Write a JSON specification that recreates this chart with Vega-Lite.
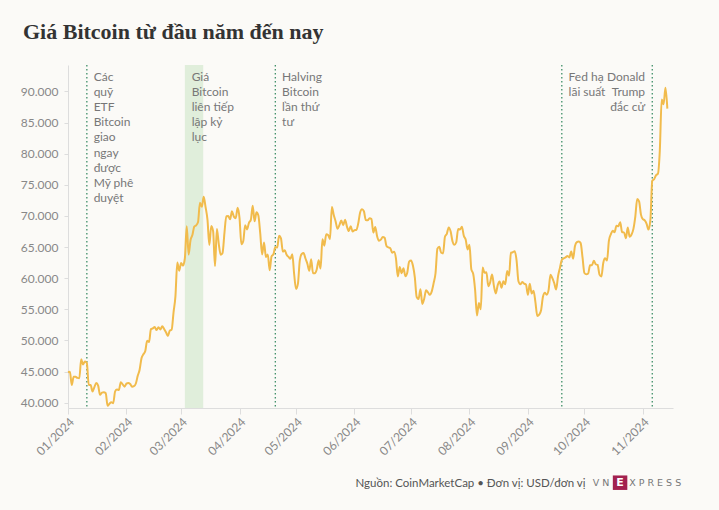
{
  "$schema": "https://vega.github.io/schema/vega-lite/v6.json",
  "width": 605,
  "height": 343,
  "autosize": {"type": "none"},
  "padding": {"left": 68, "top": 65, "right": 46, "bottom": 102},
  "background": "#fbfaf7",
  "title": {
    "text": "Giá Bitcoin từ đầu năm đến nay",
    "anchor": "start",
    "frame": "group",
    "dx": -45,
    "dy": 20.7,
    "offset": 24,
    "baseline": "alphabetic",
    "font": "Liberation Serif",
    "fontSize": 22,
    "fontWeight": "bold",
    "color": "#333333"
  },
  "config": {
    "view": {"stroke": null},
    "font": "Lato"
  },
  "datasets": {
    "prices": [
      {"d":"2024-01-01","p":44900},{"d":"2024-01-02","p":44958},{"d":"2024-01-03","p":42848},{"d":"2024-01-04","p":44179},{"d":"2024-01-05","p":44162},{"d":"2024-01-06","p":43989},{"d":"2024-01-07","p":43943},{"d":"2024-01-08","p":46970},{"d":"2024-01-09","p":46139},{"d":"2024-01-10","p":46627},{"d":"2024-01-11","p":46368},{"d":"2024-01-12","p":42853},{"d":"2024-01-13","p":42842},{"d":"2024-01-14","p":41796},{"d":"2024-01-15","p":42511},{"d":"2024-01-16","p":43155},{"d":"2024-01-17","p":42742},{"d":"2024-01-18","p":41262},{"d":"2024-01-19","p":41618},{"d":"2024-01-20","p":41665},{"d":"2024-01-21","p":41545},{"d":"2024-01-22","p":39507},{"d":"2024-01-23","p":39845},{"d":"2024-01-24","p":40077},{"d":"2024-01-25","p":39933},{"d":"2024-01-26","p":41816},{"d":"2024-01-27","p":42120},{"d":"2024-01-28","p":42035},{"d":"2024-01-29","p":43288},{"d":"2024-01-30","p":42952},{"d":"2024-01-31","p":42582},
      {"d":"2024-02-01","p":43075},{"d":"2024-02-02","p":43185},{"d":"2024-02-03","p":42992},{"d":"2024-02-04","p":42583},{"d":"2024-02-05","p":42658},{"d":"2024-02-06","p":43084},{"d":"2024-02-07","p":44318},{"d":"2024-02-08","p":45301},{"d":"2024-02-09","p":47147},{"d":"2024-02-10","p":47771},{"d":"2024-02-11","p":48293},{"d":"2024-02-12","p":49958},{"d":"2024-02-13","p":49742},{"d":"2024-02-14","p":51826},{"d":"2024-02-15","p":51938},{"d":"2024-02-16","p":52160},{"d":"2024-02-17","p":51663},{"d":"2024-02-18","p":52122},{"d":"2024-02-19","p":51779},{"d":"2024-02-20","p":52284},{"d":"2024-02-21","p":51839},{"d":"2024-02-22","p":51304},{"d":"2024-02-23","p":50731},{"d":"2024-02-24","p":51571},{"d":"2024-02-25","p":51733},{"d":"2024-02-26","p":54522},{"d":"2024-02-27","p":57085},{"d":"2024-02-28","p":62504},{"d":"2024-02-29","p":61198},
      {"d":"2024-03-01","p":62440},{"d":"2024-03-02","p":62029},{"d":"2024-03-03","p":63167},{"d":"2024-03-04","p":68330},{"d":"2024-03-05","p":63801},{"d":"2024-03-06","p":66106},{"d":"2024-03-07","p":66925},{"d":"2024-03-08","p":68300},{"d":"2024-03-09","p":68498},{"d":"2024-03-10","p":69019},{"d":"2024-03-11","p":72123},{"d":"2024-03-12","p":71481},{"d":"2024-03-13","p":73083},{"d":"2024-03-14","p":71397},{"d":"2024-03-15","p":69403},{"d":"2024-03-16","p":65315},{"d":"2024-03-17","p":68391},{"d":"2024-03-18","p":67548},{"d":"2024-03-19","p":61912},{"d":"2024-03-20","p":67913},{"d":"2024-03-21","p":65491},{"d":"2024-03-22","p":63779},{"d":"2024-03-23","p":64062},{"d":"2024-03-24","p":67234},{"d":"2024-03-25","p":69958},{"d":"2024-03-26","p":69987},{"d":"2024-03-27","p":69455},{"d":"2024-03-28","p":70744},{"d":"2024-03-29","p":69892},{"d":"2024-03-30","p":69645},{"d":"2024-03-31","p":71333},
      {"d":"2024-04-01","p":69702},{"d":"2024-04-02","p":65446},{"d":"2024-04-03","p":65980},{"d":"2024-04-04","p":68508},{"d":"2024-04-05","p":67837},{"d":"2024-04-06","p":68896},{"d":"2024-04-07","p":69362},{"d":"2024-04-08","p":71632},{"d":"2024-04-09","p":69139},{"d":"2024-04-10","p":70587},{"d":"2024-04-11","p":70060},{"d":"2024-04-12","p":67195},{"d":"2024-04-13","p":63821},{"d":"2024-04-14","p":65738},{"d":"2024-04-15","p":63426},{"d":"2024-04-16","p":63811},{"d":"2024-04-17","p":61276},{"d":"2024-04-18","p":63512},{"d":"2024-04-19","p":63843},{"d":"2024-04-20","p":64994},{"d":"2024-04-21","p":64927},{"d":"2024-04-22","p":66837},{"d":"2024-04-23","p":66407},{"d":"2024-04-24","p":64276},{"d":"2024-04-25","p":64482},{"d":"2024-04-26","p":63756},{"d":"2024-04-27","p":63419},{"d":"2024-04-28","p":63113},{"d":"2024-04-29","p":63841},{"d":"2024-04-30","p":60636},
      {"d":"2024-05-01","p":58254},{"d":"2024-05-02","p":59123},{"d":"2024-05-03","p":62889},{"d":"2024-05-04","p":63892},{"d":"2024-05-05","p":64031},{"d":"2024-05-06","p":63161},{"d":"2024-05-07","p":62334},{"d":"2024-05-08","p":61187},{"d":"2024-05-09","p":63049},{"d":"2024-05-10","p":60793},{"d":"2024-05-11","p":60793},{"d":"2024-05-12","p":61448},{"d":"2024-05-13","p":62901},{"d":"2024-05-14","p":61553},{"d":"2024-05-15","p":66267},{"d":"2024-05-16","p":65231},{"d":"2024-05-17","p":67051},{"d":"2024-05-18","p":66940},{"d":"2024-05-19","p":66278},{"d":"2024-05-20","p":71448},{"d":"2024-05-21","p":70136},{"d":"2024-05-22","p":69122},{"d":"2024-05-23","p":67929},{"d":"2024-05-24","p":68526},{"d":"2024-05-25","p":69265},{"d":"2024-05-26","p":68518},{"d":"2024-05-27","p":69394},{"d":"2024-05-28","p":68296},{"d":"2024-05-29","p":67578},{"d":"2024-05-30","p":68364},{"d":"2024-05-31","p":67491},
      {"d":"2024-06-01","p":67706},{"d":"2024-06-02","p":67751},{"d":"2024-06-03","p":68804},{"d":"2024-06-04","p":70567},{"d":"2024-06-05","p":71082},{"d":"2024-06-06","p":70757},{"d":"2024-06-07","p":69342},{"d":"2024-06-08","p":69305},{"d":"2024-06-09","p":69648},{"d":"2024-06-10","p":69512},{"d":"2024-06-11","p":67332},{"d":"2024-06-12","p":68241},{"d":"2024-06-13","p":66756},{"d":"2024-06-14","p":66011},{"d":"2024-06-15","p":66191},{"d":"2024-06-16","p":66639},{"d":"2024-06-17","p":66490},{"d":"2024-06-18","p":65140},{"d":"2024-06-19","p":64960},{"d":"2024-06-20","p":64828},{"d":"2024-06-21","p":64096},{"d":"2024-06-22","p":64252},{"d":"2024-06-23","p":63180},{"d":"2024-06-24","p":60277},{"d":"2024-06-25","p":61804},{"d":"2024-06-26","p":60811},{"d":"2024-06-27","p":61605},{"d":"2024-06-28","p":60320},{"d":"2024-06-29","p":60887},{"d":"2024-06-30","p":62678},
      {"d":"2024-07-01","p":62851},{"d":"2024-07-02","p":62029},{"d":"2024-07-03","p":60173},{"d":"2024-07-04","p":56977},{"d":"2024-07-05","p":56663},{"d":"2024-07-06","p":58230},{"d":"2024-07-07","p":55857},{"d":"2024-07-08","p":56714},{"d":"2024-07-09","p":58051},{"d":"2024-07-10","p":57725},{"d":"2024-07-11","p":57339},{"d":"2024-07-12","p":57889},{"d":"2024-07-13","p":59204},{"d":"2024-07-14","p":60797},{"d":"2024-07-15","p":64724},{"d":"2024-07-16","p":65043},{"d":"2024-07-17","p":64087},{"d":"2024-07-18","p":63987},{"d":"2024-07-19","p":66660},{"d":"2024-07-20","p":67139},{"d":"2024-07-21","p":68165},{"d":"2024-07-22","p":67532},{"d":"2024-07-23","p":65936},{"d":"2024-07-24","p":65372},{"d":"2024-07-25","p":65777},{"d":"2024-07-26","p":67912},{"d":"2024-07-27","p":67813},{"d":"2024-07-28","p":68255},{"d":"2024-07-29","p":66820},{"d":"2024-07-30","p":66201},{"d":"2024-07-31","p":64619},
      {"d":"2024-08-01","p":65357},{"d":"2024-08-02","p":61415},{"d":"2024-08-03","p":60680},{"d":"2024-08-04","p":58116},{"d":"2024-08-05","p":53991},{"d":"2024-08-06","p":56034},{"d":"2024-08-07","p":55027},{"d":"2024-08-08","p":61710},{"d":"2024-08-09","p":60880},{"d":"2024-08-10","p":60945},{"d":"2024-08-11","p":58719},{"d":"2024-08-12","p":59354},{"d":"2024-08-13","p":60609},{"d":"2024-08-14","p":58737},{"d":"2024-08-15","p":57560},{"d":"2024-08-16","p":58894},{"d":"2024-08-17","p":59478},{"d":"2024-08-18","p":58483},{"d":"2024-08-19","p":59493},{"d":"2024-08-20","p":59012},{"d":"2024-08-21","p":61175},{"d":"2024-08-22","p":60381},{"d":"2024-08-23","p":64094},{"d":"2024-08-24","p":64178},{"d":"2024-08-25","p":64333},{"d":"2024-08-26","p":62880},{"d":"2024-08-27","p":59504},{"d":"2024-08-28","p":59027},{"d":"2024-08-29","p":59388},{"d":"2024-08-30","p":59119},{"d":"2024-08-31","p":58970},
      {"d":"2024-09-01","p":57325},{"d":"2024-09-02","p":59112},{"d":"2024-09-03","p":57541},{"d":"2024-09-04","p":57971},{"d":"2024-09-05","p":56160},{"d":"2024-09-06","p":53949},{"d":"2024-09-07","p":54139},{"d":"2024-09-08","p":54842},{"d":"2024-09-09","p":57019},{"d":"2024-09-10","p":57648},{"d":"2024-09-11","p":57343},{"d":"2024-09-12","p":58127},{"d":"2024-09-13","p":60571},{"d":"2024-09-14","p":60005},{"d":"2024-09-15","p":59182},{"d":"2024-09-16","p":58192},{"d":"2024-09-17","p":60309},{"d":"2024-09-18","p":61649},{"d":"2024-09-19","p":62940},{"d":"2024-09-20","p":63193},{"d":"2024-09-21","p":63348},{"d":"2024-09-22","p":63579},{"d":"2024-09-23","p":63339},{"d":"2024-09-24","p":64277},{"d":"2024-09-25","p":63144},{"d":"2024-09-26","p":65182},{"d":"2024-09-27","p":65790},{"d":"2024-09-28","p":65887},{"d":"2024-09-29","p":65635},{"d":"2024-09-30","p":63329},
      {"d":"2024-10-01","p":60837},{"d":"2024-10-02","p":60632},{"d":"2024-10-03","p":60759},{"d":"2024-10-04","p":62067},{"d":"2024-10-05","p":62089},{"d":"2024-10-06","p":62818},{"d":"2024-10-07","p":62236},{"d":"2024-10-08","p":62131},{"d":"2024-10-09","p":60583},{"d":"2024-10-10","p":60274},{"d":"2024-10-11","p":62445},{"d":"2024-10-12","p":63193},{"d":"2024-10-13","p":62851},{"d":"2024-10-14","p":66046},{"d":"2024-10-15","p":67041},{"d":"2024-10-16","p":67612},{"d":"2024-10-17","p":67399},{"d":"2024-10-18","p":68418},{"d":"2024-10-19","p":68362},{"d":"2024-10-20","p":69001},{"d":"2024-10-21","p":67367},{"d":"2024-10-22","p":67361},{"d":"2024-10-23","p":66432},{"d":"2024-10-24","p":68161},{"d":"2024-10-25","p":66642},{"d":"2024-10-26","p":67014},{"d":"2024-10-27","p":67929},{"d":"2024-10-28","p":69907},{"d":"2024-10-29","p":72720},{"d":"2024-10-30","p":72339},{"d":"2024-10-31","p":70215},
      {"d":"2024-11-01","p":69482},{"d":"2024-11-02","p":69289},{"d":"2024-11-03","p":68741},{"d":"2024-11-04","p":67811},{"d":"2024-11-05","p":69359},{"d":"2024-11-06","p":75639},{"d":"2024-11-07","p":75904},{"d":"2024-11-08","p":76545},{"d":"2024-11-09","p":76778},{"d":"2024-11-10","p":80474},{"d":"2024-11-11","p":88701},{"d":"2024-11-12","p":87955},{"d":"2024-11-13","p":90585},{"d":"2024-11-14","p":87250}
    ],
    "band": [{"start": "2024-03-03T00:00:00Z", "end": "2024-03-12T18:00:00Z", "event": "Giá Bitcoin liên tiếp lập kỷ lục"}],
    "events": [
      {"d": "2024-01-11", "event": "ETF"},
      {"d": "2024-04-20", "event": "Halving"},
      {"d": "2024-09-19", "event": "Fed"},
      {"d": "2024-11-06", "event": "Trump"}
    ],
    "notesLeft": [
      {"d": "2024-01-11", "label": "Các\nquỹ\nETF\nBitcoin\ngiao\nngay\nđược\nMỹ phê\nduyệt"},
      {"d": "2024-03-03T00:00:00Z", "label": "Giá\nBitcoin\nliên tiếp\nlập kỷ\nlục"},
      {"d": "2024-04-20", "label": "Halving\nBitcoin\nlần thứ\ntư"},
      {"d": "2024-09-19", "label": "Fed hạ\nlãi suất"}
    ],
    "notesRight": [
      {"d": "2024-11-06", "label": "Donald\nTrump\nđắc cử"}
    ]
  },
  "layer": [
    {
      "data": {"name": "band"},
      "mark": {"type": "rect", "color": "#e0eedb", "opacity": 1},
      "encoding": {
        "x": {"field": "start", "type": "temporal"},
        "x2": {"field": "end"}
      }
    },
    {
      "data": {"name": "events"},
      "mark": {"type": "rule", "color": "#3f8f68", "strokeWidth": 1.3, "strokeDash": [1.5, 2.5]},
      "encoding": {
        "x": {"field": "d", "type": "temporal"}
      }
    },
    {
      "data": {"name": "prices"},
      "mark": {"type": "line", "color": "#f1bb4c", "strokeWidth": 2, "interpolate": "monotone"},
      "encoding": {
        "x": {
          "field": "d",
          "type": "temporal",
          "scale": {"type": "utc", "domain": ["2024-01-01T00:00:00Z", "2024-11-17T00:00:00Z"], "nice": false},
          "axis": {
            "format": "%m/%Y",
            "tickCount": {"interval": "month", "step": 1},
            "labelAngle": -45,
            "labelFont": "Lato",
            "labelFontSize": 12,
            "labelColor": "#888888",
            "domainColor": "#dddddd",
            "tickColor": "#dddddd",
            "tickSize": 6,
            "grid": false,
            "title": "Nguồn: CoinMarketCap • Đơn vị: USD/đơn vị",
            "titleFont": "Lato",
            "titleFontSize": 11.5,
            "titleFontWeight": "normal",
            "titleColor": "#555555",
            "titleAlign": "right",
            "titleAnchor": "end",
            "titleBaseline": "middle",
            "titleX": 517,
            "titleY": 75
          }
        },
        "y": {
          "field": "p",
          "type": "quantitative",
          "scale": {"domain": [39150, 94250], "nice": false, "zero": false},
          "axis": {
            "values": [40000, 45000, 50000, 55000, 60000, 65000, 70000, 75000, 80000, 85000, 90000],
            "tickCount": 20,
            "labelExpr": "replace(format(datum.value, ','), ',', '.')",
            "labelOverlap": false,
            "labelFont": "Lato",
            "labelFontSize": 12,
            "labelColor": "#888888",
            "domainColor": "#dddddd",
            "tickColor": "#dddddd",
            "tickSize": 4,
            "labelPadding": 6,
            "grid": false,
            "title": null
          }
        }
      }
    },
    {
      "data": {"name": "notesLeft"},
      "mark": {"type": "text", "align": "left", "baseline": "alphabetic", "dx": 6.8, "lineBreak": "\n", "lineHeight": 15.2, "font": "Lato", "fontSize": 12, "color": "#777777"},
      "encoding": {
        "x": {"field": "d", "type": "temporal"},
        "y": {"datum": 91730},
        "text": {"field": "label"}
      }
    },
    {
      "data": {"name": "notesRight"},
      "mark": {"type": "text", "align": "right", "baseline": "alphabetic", "dx": -7.2, "lineBreak": "\n", "lineHeight": 15.2, "font": "Lato", "fontSize": 12, "color": "#777777"},
      "encoding": {
        "x": {"field": "d", "type": "temporal"},
        "y": {"datum": 91730},
        "text": {"field": "label"}
      }
    },
    {
      "data": {"values": [{}]},
      "mark": {"type": "text", "align": "center", "baseline": "middle", "font": "DejaVu Sans", "fontSize": 9.5, "color": "#777777", "text": "V N"},
      "encoding": {
        "x": {"datum": {"year": 2024, "month": 10, "date": 9, "hours": 19, "utc": true}},
        "y": {"datum": 27150}
      }
    },
    {
      "data": {"values": [{}]},
      "mark": {"type": "point", "shape": "square", "filled": true, "size": 210, "color": "#a3214f", "opacity": 1},
      "encoding": {
        "x": {"datum": {"year": 2024, "month": 10, "date": 19, "hours": 22, "utc": true}},
        "y": {"datum": 27150}
      }
    },
    {
      "data": {"values": [{}]},
      "mark": {"type": "text", "align": "center", "baseline": "middle", "font": "DejaVu Sans", "fontSize": 11, "fontWeight": "bold", "color": "#ffffff", "text": "E"},
      "encoding": {
        "x": {"datum": {"year": 2024, "month": 10, "date": 19, "hours": 22, "utc": true}},
        "y": {"datum": 27150}
      }
    },
    {
      "data": {"values": [{}]},
      "mark": {"type": "text", "align": "center", "baseline": "middle", "font": "DejaVu Sans", "fontSize": 9.5, "color": "#777777", "text": "X P R E S S"},
      "encoding": {
        "x": {"datum": {"year": 2024, "month": 11, "date": 7, "hours": 13, "utc": true}},
        "y": {"datum": 27150}
      }
    }
  ]
}
